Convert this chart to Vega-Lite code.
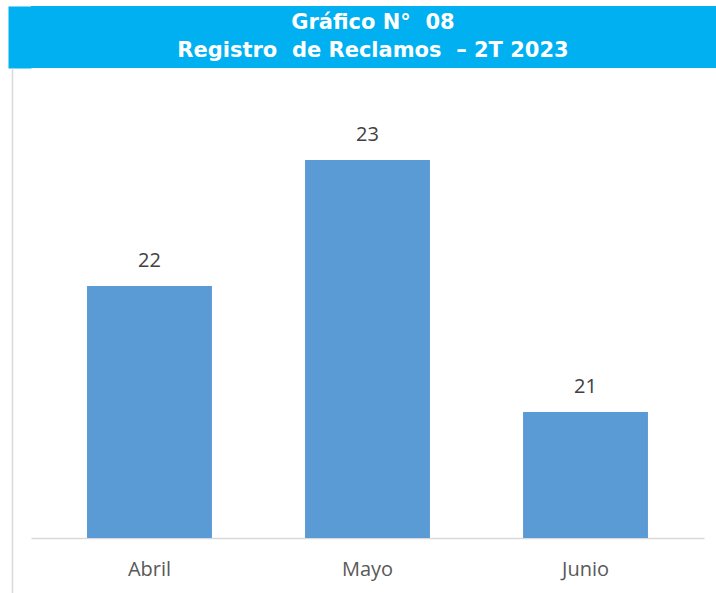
{
  "$schema": "https://vega.github.io/schema/vega-lite/v6.json",
  "padding": {"left": 7, "top": 6, "right": 0, "bottom": 0},
  "background": "white",
  "spacing": 0,
  "bounds": "full",
  "datasets": {
    "titulo": [
      {"linea": "Gráfico N°\u00a0 08"},
      {"linea": "Registro\u00a0 de Reclamos\u00a0 – 2T 2023"}
    ],
    "reclamos": [
      {"mes": "Abril", "reclamos": 22},
      {"mes": "Mayo", "reclamos": 23},
      {"mes": "Junio", "reclamos": 21}
    ]
  },
  "config": {"view": {"stroke": null}, "font": "Open Sans"},
  "vconcat": [
    {
      "width": 686,
      "height": 62,
      "view": {"fill": "#00B0F0", "stroke": null},
      "data": {"name": "titulo"},
      "mark": {
        "type": "text",
        "font": "DejaVu Sans",
        "fontWeight": "bold",
        "fontSize": 21,
        "color": "white",
        "baseline": "middle",
        "align": "center",
        "dx": -1
      },
      "encoding": {
        "y": {
          "field": "linea",
          "type": "nominal",
          "sort": null,
          "scale": {"type": "point", "padding": 0.607},
          "axis": {
            "domain": true,
            "domainColor": "#00B0F0",
            "domainWidth": 23,
            "offset": 11.5,
            "labels": false,
            "ticks": false,
            "grid": false,
            "title": null
          }
        },
        "text": {"field": "linea"}
      }
    },
    {
      "width": 673,
      "height": 525,
      "data": {"name": "reclamos"},
      "encoding": {
        "x": {
          "field": "mes",
          "type": "nominal",
          "sort": null,
          "scale": {"paddingInner": 0.427, "paddingOuter": 0.257},
          "axis": {
            "orient": "bottom",
            "offset": -55,
            "title": null,
            "domainColor": "#d9d9d9",
            "domainWidth": 1.5,
            "ticks": false,
            "labelPadding": 21,
            "labelFontSize": 20,
            "labelColor": "#595959",
            "labelFont": "Open Sans",
            "labelAngle": 0
          }
        },
        "y": {
          "field": "reclamos",
          "type": "quantitative",
          "scale": {"domain": [19.5635, 23.7302], "nice": false, "zero": false},
          "axis": {
            "offset": 19,
            "domainColor": "#d9d9d9",
            "domainWidth": 1.5,
            "ticks": true,
            "tickSize": 4,
            "tickColor": "white",
            "labels": false,
            "grid": false,
            "title": null
          }
        }
      },
      "layer": [
        {
          "mark": {"type": "bar", "color": "#5B9BD5"},
          "encoding": {"y2": {"datum": 20}}
        },
        {
          "mark": {"type": "text", "dy": -25, "fontSize": 20, "color": "#404040", "baseline": "middle", "font": "Open Sans"},
          "encoding": {"text": {"field": "reclamos", "type": "quantitative"}}
        }
      ]
    }
  ]
}
